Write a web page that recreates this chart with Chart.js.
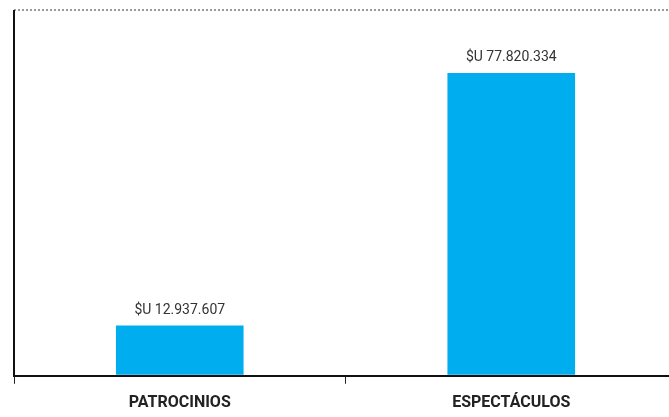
<!DOCTYPE html>
<html>
<head>
<meta charset="utf-8">
<script src="https://cdn.jsdelivr.net/npm/chart.js@4/dist/chart.umd.min.js"></script>
<style>
  html, body { margin: 0; padding: 0; background: #fff; overflow: hidden; }
  #wrap { width: 677px; height: 423px; }
</style>
</head>
<body>
<div id="wrap"><canvas id="chart"></canvas></div>
<script>
const categories = ["PATROCINIOS", "ESPECTÁCULOS"];
const amounts = [12937607, 77820334];
const valueLabels = ["$U 12.937.607", "$U 77.820.334"];
const yMax = 94000000;

const barLabels = {
  id: "barLabels",
  afterDatasetsDraw(chart) {
    const { ctx } = chart;
    const meta = chart.getDatasetMeta(0);
    ctx.save();
    ctx.font = "14px Roboto";
    ctx.fillStyle = "#333";
    ctx.textAlign = "center";
    ctx.textBaseline = "bottom";
    meta.data.forEach((bar, i) => {
      ctx.fillText(valueLabels[i], bar.x, bar.y - 8);
    });
    ctx.restore();
  }
};

// plain solid y axis line (border.dash would dash it together with the grid)
const yAxisLine = {
  id: "yAxisLine",
  afterDraw(chart) {
    const { ctx, chartArea } = chart;
    ctx.save();
    ctx.strokeStyle = "#111";
    ctx.lineWidth = 2;
    ctx.beginPath();
    ctx.moveTo(chartArea.left, chartArea.top);
    ctx.lineTo(chartArea.left, chartArea.bottom);
    ctx.stroke();
    ctx.restore();
  }
};

const ctx = document.getElementById("chart").getContext("2d");

new Chart(ctx, {
  type: "bar",
  data: {
    labels: categories,
    datasets: [{
      data: amounts,
      backgroundColor: "#00adee",
      barPercentage: 0.77,
      categoryPercentage: 0.5
    }]
  },
  options: {
    responsive: true,
    maintainAspectRatio: false,
    animation: false,
    layout: { padding: { left: 14, top: 10, right: 0, bottom: 0 } },
    plugins: {
      legend: { display: false },
      tooltip: { enabled: false }
    },
    scales: {
      x: {
        grid: {
          offset: true,
          drawOnChartArea: false,
          color: "#222",
          lineWidth: 1,
          tickLength: 8
        },
        border: { color: "#111", width: 2 },
        ticks: {
          color: "#222",
          font: { family: "Roboto", size: 16, weight: "bold" },
          padding: 10
        }
      },
      y: {
        min: 0,
        max: yMax,
        afterBuildTicks(scale) {
          scale.ticks = [{ value: 0 }, { value: yMax }];
        },
        grid: {
          drawTicks: false,
          color: c => c.tick.value === yMax ? "#999" : "rgba(0,0,0,0)",
          lineWidth: 2
        },
        border: { display: false, dash: [2, 2] },
        ticks: { display: false }
      }
    }
  },
  plugins: [barLabels, yAxisLine]
});
</script>
</body>
</html>
